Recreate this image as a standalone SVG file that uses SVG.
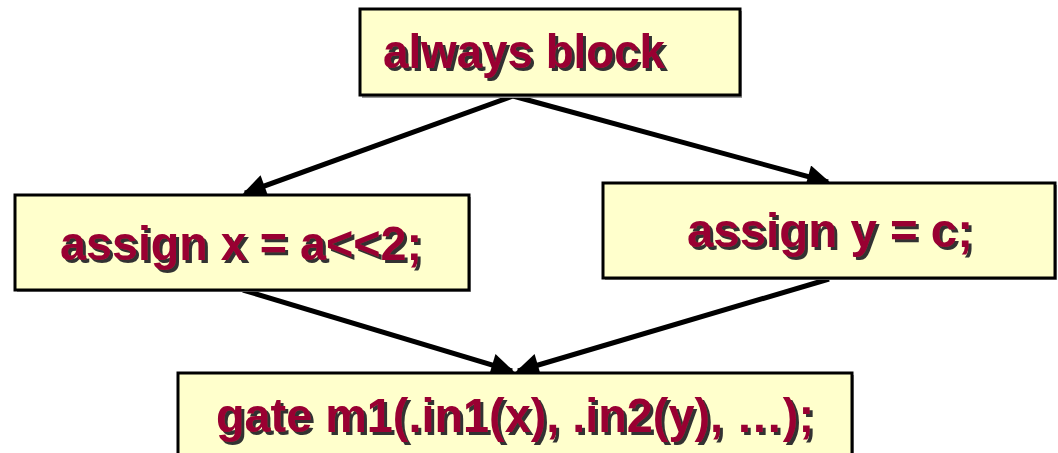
<svg xmlns="http://www.w3.org/2000/svg" width="1058" height="453" viewBox="0 0 1058 453">
  <style>
    .box { fill: #FFFFCC; stroke: #000; stroke-width: 3; }
    .shadow { fill: #999; }
    .lbl { font-family: "Liberation Sans", Arial, sans-serif; font-weight: bold; font-size: 48px; text-anchor: middle; fill: #990033; filter: url(#txtShadow); }
    .edge { stroke: #000; stroke-width: 5; fill: none; marker-end: url(#arrow); }
  </style>
  <defs>
    <marker id="arrow" viewBox="0 0 10 10" refX="9" refY="5" markerWidth="5" markerHeight="4.6" orient="auto" markerUnits="strokeWidth">
      <path d="M0,0 L10,5 L0,10 Z" fill="#000"/>
    </marker>
    <!-- embossed text shadow, offset down-right -->
    <filter id="txtShadow" x="-5%" y="-20%" width="110%" height="140%">
      <feOffset in="SourceAlpha" dx="3" dy="3" result="off"/>
      <feFlood flood-color="#333"/>
      <feComposite in2="off" operator="in" result="sh"/>
      <feMerge>
        <feMergeNode in="sh"/>
        <feMergeNode in="SourceGraphic"/>
      </feMerge>
    </filter>
  </defs>

  <!-- connectors between statements -->
  <g id="connectors">
    <line class="edge" x1="513" y1="96" x2="245" y2="193"/>
    <line class="edge" x1="513" y1="96" x2="828" y2="182"/>
    <line class="edge" x1="243" y1="290" x2="512" y2="371"/>
    <line class="edge" x1="829" y1="279" x2="518" y2="371"/>
  </g>

  <g id="always-block">
    <rect class="shadow" x="362" y="11" width="380" height="87"/>
    <rect class="box" x="360" y="9" width="380" height="86"/>
    <text class="lbl" x="524" y="68" textLength="282" lengthAdjust="spacingAndGlyphs">always block</text>
  </g>

  <g id="assign-x">
    <rect class="shadow" x="17" y="197" width="454" height="95"/>
    <rect class="box" x="15" y="195" width="454" height="95"/>
    <text class="lbl" x="241" y="260" textLength="362" lengthAdjust="spacingAndGlyphs">assign x = a&lt;&lt;2;</text>
  </g>

  <g id="assign-y">
    <rect class="shadow" x="605" y="185" width="452" height="95"/>
    <rect class="box" x="603" y="183" width="452" height="95"/>
    <text class="lbl" x="830" y="247" textLength="286" lengthAdjust="spacingAndGlyphs">assign y = c;</text>
  </g>

  <g id="gate">
    <rect class="shadow" x="180" y="375" width="674" height="90"/>
    <rect class="box" x="178" y="373" width="674" height="90"/>
    <text class="lbl" x="515" y="432" textLength="598" lengthAdjust="spacingAndGlyphs">gate m1(.in1(x), .in2(y), …);</text>
  </g>
</svg>
